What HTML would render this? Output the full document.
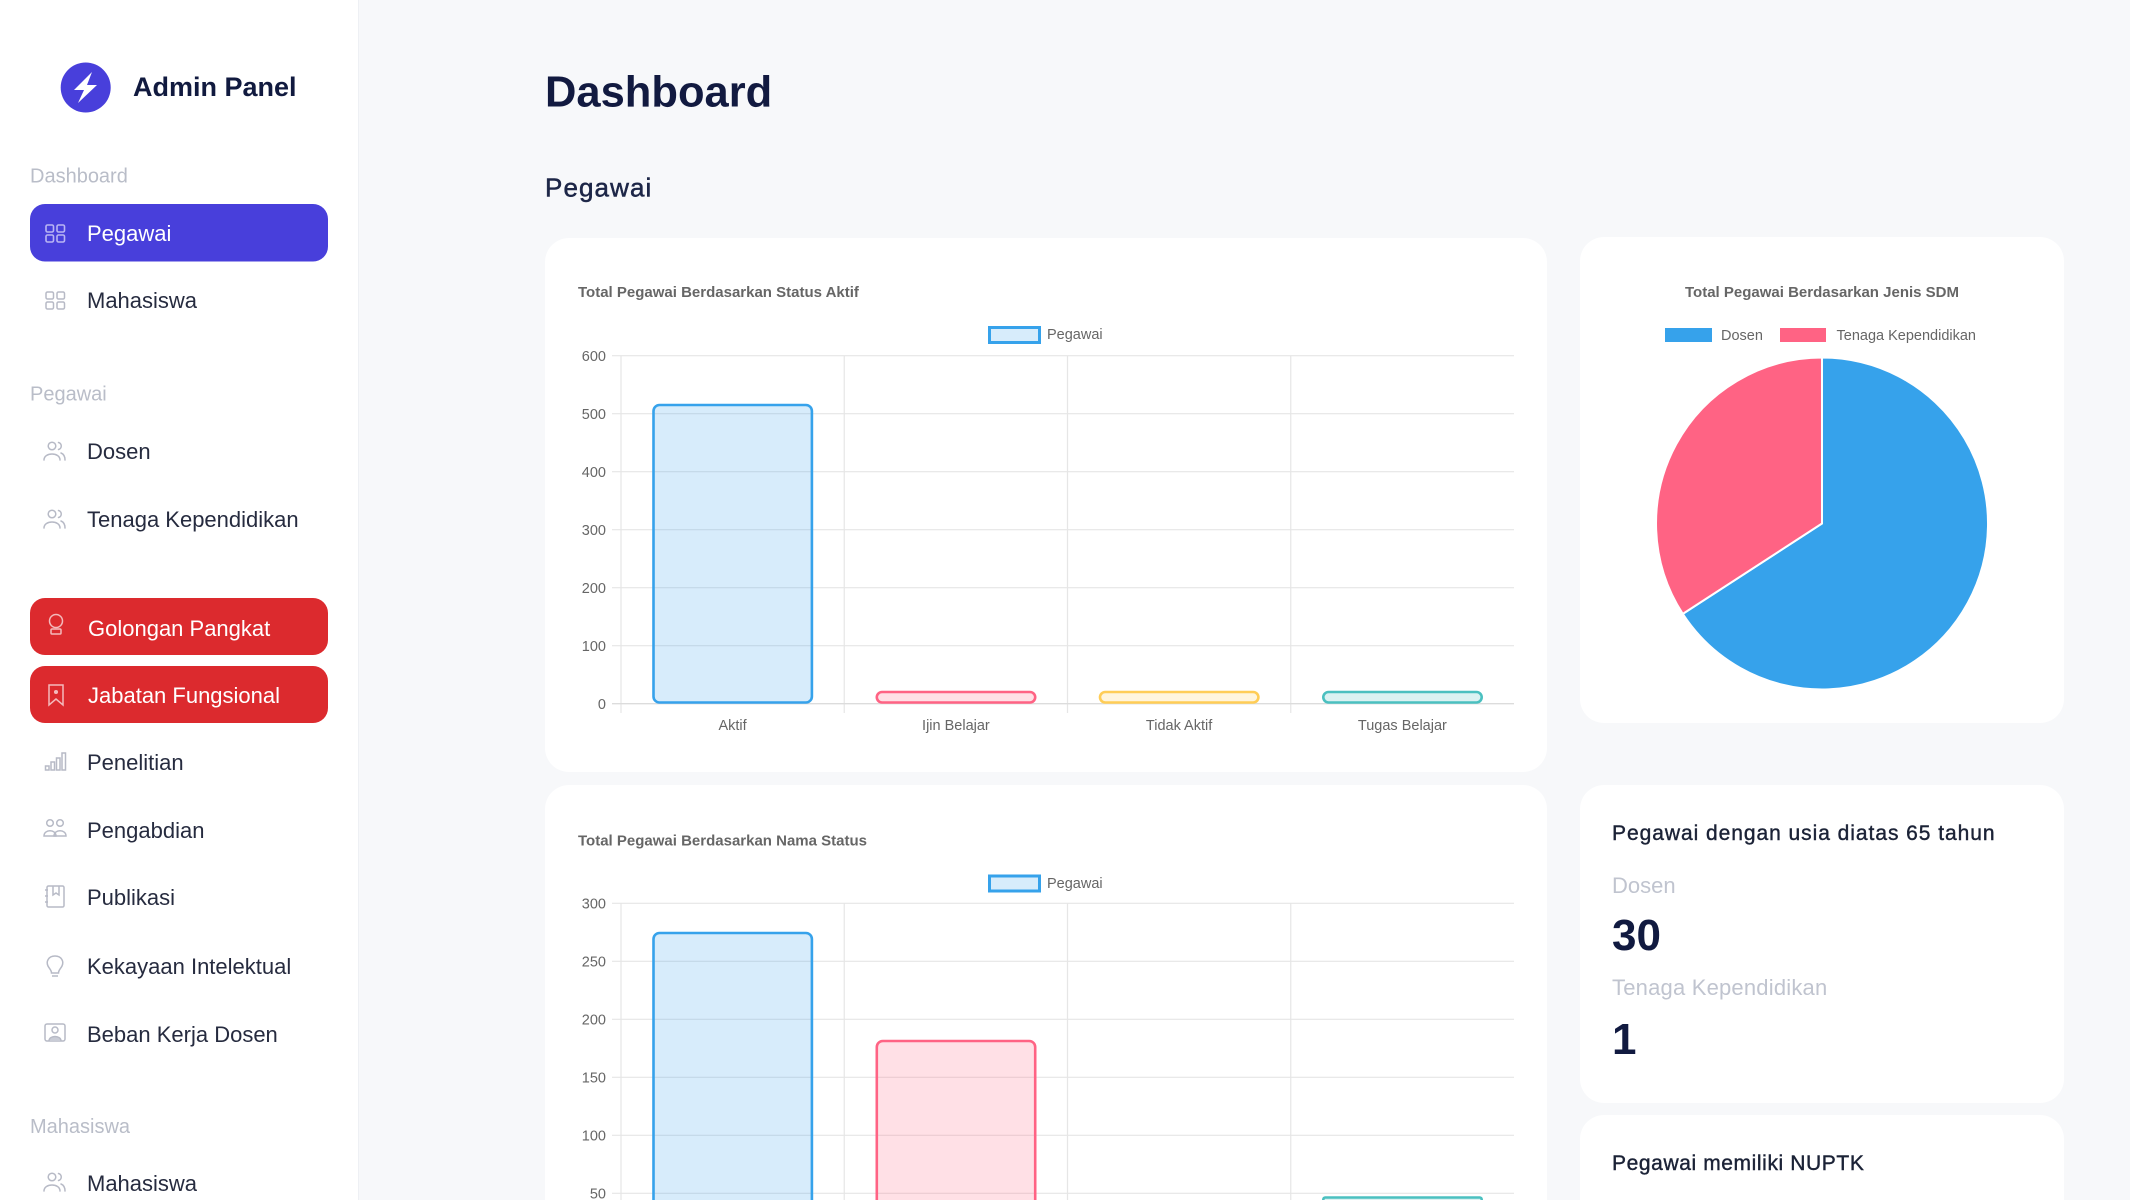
<!DOCTYPE html>
<html><head><meta charset="utf-8"><style>
html,body{margin:0;padding:0;background:#f7f8fa;width:2130px;height:1200px;overflow:hidden;}
svg{display:block;}
text{font-family:"Liberation Sans",Arial,sans-serif;}
</style></head><body>
<svg width="2130" height="1200" viewBox="0 0 2130 1200" xmlns="http://www.w3.org/2000/svg" style="overflow:hidden">
<defs><clipPath id="pg"><rect x="0" y="0" width="2130" height="1200"/></clipPath></defs>
<g clip-path="url(#pg)">
<rect x="0" y="0" width="2130" height="1200" fill="#f7f8fa"/>
<!-- Sidebar -->
<rect x="0" y="0" width="358" height="1200" fill="#ffffff"/>
<line x1="358.5" y1="0" x2="358.5" y2="1200" stroke="#eef0f4" stroke-width="1"/>
<circle cx="85.7" cy="87.5" r="25" fill="#483fdb"/>
<path d="M92 72 L74 90 L84 90 L78 103 L97 85 L87 85 Z" fill="#ffffff"/>
<text x="133" y="96" font-size="27" font-weight="bold" fill="#111a3f">Admin Panel</text>

<text x="30" y="182.5" font-size="20" fill="#b9bdc8">Dashboard</text>
<rect x="30" y="204" width="298" height="57.5" rx="15" fill="#483fdb"/>
<g fill="none" stroke="#b9b5f3" stroke-width="1.6">
<rect x="46" y="225" width="7.5" height="7" rx="1.5"/><rect x="57" y="225" width="7.5" height="7" rx="1.5"/>
<rect x="46" y="235" width="7.5" height="7" rx="1.5"/><rect x="57" y="235" width="7.5" height="7" rx="1.5"/>
</g>
<text x="87" y="241" font-size="22" fill="#ffffff">Pegawai</text>

<g fill="none" stroke="#b7bac6" stroke-width="1.5">
<rect x="46" y="292" width="7.5" height="7" rx="1.5"/><rect x="57" y="292" width="7.5" height="7" rx="1.5"/>
<rect x="46" y="302" width="7.5" height="7" rx="1.5"/><rect x="57" y="302" width="7.5" height="7" rx="1.5"/>
</g>
<text x="87" y="308" font-size="22" fill="#262b3f">Mahasiswa</text>

<text x="30" y="400.5" font-size="20" fill="#b9bdc8">Pegawai</text>

<g fill="none" stroke="#b7bac6" stroke-width="1.5" stroke-linecap="round">
<circle cx="52" cy="446" r="3.8"/><path d="M44 460 C44 452 60 452 60 460"/><path d="M58.5 442.5 A3.6 3.6 0 0 1 58.5 449.5"/><path d="M61 453 C63.5 454 65 456 65 460"/>
</g>
<text x="87" y="459" font-size="22" fill="#262b3f">Dosen</text>
<g fill="none" stroke="#b7bac6" stroke-width="1.5" stroke-linecap="round">
<circle cx="52" cy="514" r="3.8"/><path d="M44 528 C44 520 60 520 60 528"/><path d="M58.5 510.5 A3.6 3.6 0 0 1 58.5 517.5"/><path d="M61 521 C63.5 522 65 524 65 528"/>
</g>
<text x="87" y="527" font-size="22" fill="#262b3f">Tenaga Kependidikan</text>

<rect x="30" y="598" width="298" height="57" rx="15" fill="#dc2a2e"/>
<g fill="none" stroke="#f3b9bb" stroke-width="1.5">
<circle cx="56" cy="621" r="6.5"/><rect x="51" y="629" width="10" height="5" rx="1"/>
</g>
<text x="88" y="636" font-size="22" fill="#ffffff">Golongan Pangkat</text>
<rect x="30" y="666" width="298" height="57" rx="15" fill="#dc2a2e"/>
<g fill="none" stroke="#f3b9bb" stroke-width="1.5">
<path d="M49 685 L63 685 L63 705 L56 699 L49 705 Z"/><circle cx="56" cy="692" r="1.3" fill="#f3b9bb"/>
</g>
<text x="88" y="703" font-size="22" fill="#ffffff">Jabatan Fungsional</text>

<g fill="none" stroke="#b7bac6" stroke-width="1.5">
<rect x="45.5" y="766" width="3.5" height="4"/><rect x="51" y="762" width="3.5" height="8"/><rect x="56.5" y="758" width="3.5" height="12"/><rect x="62" y="753" width="3.5" height="17"/>
</g>
<text x="87" y="770" font-size="22" fill="#262b3f">Penelitian</text>
<g fill="none" stroke="#b7bac6" stroke-width="1.5">
<circle cx="50" cy="823" r="3.3"/><circle cx="60" cy="823" r="3.3"/><path d="M44 836 C44 829 56 829 56 836 Z"/><path d="M54 836 C54 829 66 829 66 836 Z"/>
</g>
<text x="87" y="838" font-size="22" fill="#262b3f">Pengabdian</text>
<g fill="none" stroke="#b7bac6" stroke-width="1.5">
<rect x="47" y="886" width="17" height="21" rx="1.5"/><path d="M53 886 L53 895 L56 893 L59 895 L59 886"/><path d="M45 890 L48 890 M45 896 L48 896 M45 902 L48 902"/>
</g>
<text x="87" y="905" font-size="22" fill="#262b3f">Publikasi</text>
<g fill="none" stroke="#b7bac6" stroke-width="1.5">
<path d="M55 956 C48 956 46 962 48 966 C49.5 969 51.5 970 51.5 973 L58.5 973 C58.5 970 60.5 969 62 966 C64 962 62 956 55 956 Z"/><path d="M52 976 L58 976"/>
</g>
<text x="87" y="974" font-size="22" fill="#262b3f">Kekayaan Intelektual</text>
<g fill="none" stroke="#b7bac6" stroke-width="1.5">
<rect x="45" y="1024" width="20" height="17" rx="2"/><circle cx="55" cy="1030" r="3"/><path d="M49 1041 C49 1035 61 1035 61 1041" fill="#c9ccd6"/>
</g>
<text x="87" y="1042" font-size="22" fill="#262b3f">Beban Kerja Dosen</text>

<text x="30" y="1133" font-size="20" fill="#b9bdc8">Mahasiswa</text>
<g fill="none" stroke="#b7bac6" stroke-width="1.5" stroke-linecap="round">
<circle cx="52" cy="1177" r="3.8"/><path d="M44 1191 C44 1183 60 1183 60 1191"/><path d="M58.5 1173.5 A3.6 3.6 0 0 1 58.5 1180.5"/><path d="M61 1184 C63.5 1185 65 1187 65 1191"/>
</g>
<text x="87" y="1191" font-size="22" fill="#262b3f">Mahasiswa</text>

<!-- Header -->
<text x="545" y="106.5" font-size="43.5" font-weight="bold" fill="#121a40">Dashboard</text>
<text x="545" y="196.5" font-size="26" fill="#1d2647" letter-spacing="1.1" stroke="#1d2647" stroke-width="0.5">Pegawai</text>

<!-- Cards -->
<rect x="545" y="238" width="1002" height="534" rx="24" fill="#ffffff"/>
<rect x="1580" y="237" width="484" height="486" rx="24" fill="#ffffff"/>
<path d="M545 1200 L545 809 A24 24 0 0 1 569 785 L1523 785 A24 24 0 0 1 1547 809 L1547 1200 Z" fill="#ffffff"/>
<rect x="1580" y="785" width="484" height="318" rx="24" fill="#ffffff"/>
<path d="M1580 1200 L1580 1139 A24 24 0 0 1 1604 1115 L2040 1115 A24 24 0 0 1 2064 1139 L2064 1200 Z" fill="#ffffff"/>

<!-- Chart 1 -->
<text x="578" y="297" font-size="15" font-weight="bold" fill="#666666">Total Pegawai Berdasarkan Status Aktif</text>
<rect x="989.5" y="327.5" width="50" height="15" fill="rgba(54,162,235,0.2)" stroke="rgb(54,162,235)" stroke-width="3"/>
<text x="1047" y="339" font-size="14.5" fill="#666666">Pegawai</text>
<g stroke="#e6e6e6" stroke-width="1.2">
<line x1="612" y1="355.7" x2="1514" y2="355.7"/>
<line x1="612" y1="413.7" x2="1514" y2="413.7"/>
<line x1="612" y1="471.7" x2="1514" y2="471.7"/>
<line x1="612" y1="529.7" x2="1514" y2="529.7"/>
<line x1="612" y1="587.7" x2="1514" y2="587.7"/>
<line x1="612" y1="645.7" x2="1514" y2="645.7"/>
<line x1="621" y1="355.7" x2="621" y2="713"/>
<line x1="844.25" y1="355.7" x2="844.25" y2="713"/>
<line x1="1067.5" y1="355.7" x2="1067.5" y2="713"/>
<line x1="1290.75" y1="355.7" x2="1290.75" y2="713"/>
</g>
<line x1="612" y1="703.7" x2="1514" y2="703.7" stroke="#dcdcdc" stroke-width="1.4"/>
<g font-size="14.5" fill="#666666" text-anchor="end">
<text x="606" y="361">600</text><text x="606" y="419">500</text><text x="606" y="477">400</text>
<text x="606" y="535">300</text><text x="606" y="593">200</text><text x="606" y="651">100</text><text x="606" y="709">0</text>
</g>
<g font-size="14.5" fill="#666666" text-anchor="middle">
<text x="732.6" y="730">Aktif</text><text x="955.9" y="730">Ijin Belajar</text>
<text x="1179.1" y="730">Tidak Aktif</text><text x="1402.4" y="730">Tugas Belajar</text>
</g>
<rect x="653.5" y="405" width="158.4" height="297.5" rx="6" fill="rgba(54,162,235,0.2)" stroke="rgb(54,162,235)" stroke-width="2.6"/>
<rect x="876.8" y="692" width="158.4" height="10.5" rx="5.2" fill="rgba(255,99,132,0.2)" stroke="rgb(255,99,132)" stroke-width="2.6"/>
<rect x="1100" y="692" width="158.4" height="10.5" rx="5.2" fill="rgba(255,205,86,0.2)" stroke="rgb(255,205,86)" stroke-width="2.6"/>
<rect x="1323.3" y="692" width="158.4" height="10.5" rx="5.2" fill="rgba(75,192,192,0.2)" stroke="rgb(75,192,192)" stroke-width="2.6"/>

<!-- Chart 2 -->
<text x="578" y="845.5" font-size="15" font-weight="bold" fill="#666666">Total Pegawai Berdasarkan Nama Status</text>
<rect x="989.5" y="876" width="50" height="15" fill="rgba(54,162,235,0.2)" stroke="rgb(54,162,235)" stroke-width="3"/>
<text x="1047" y="888" font-size="14.5" fill="#666666">Pegawai</text>
<g stroke="#e6e6e6" stroke-width="1.2">
<line x1="612" y1="903.3" x2="1514" y2="903.3"/>
<line x1="612" y1="961.3" x2="1514" y2="961.3"/>
<line x1="612" y1="1019.3" x2="1514" y2="1019.3"/>
<line x1="612" y1="1077.3" x2="1514" y2="1077.3"/>
<line x1="612" y1="1135.3" x2="1514" y2="1135.3"/>
<line x1="612" y1="1193.3" x2="1514" y2="1193.3"/>
<line x1="621" y1="903.3" x2="621" y2="1200"/>
<line x1="844.25" y1="903.3" x2="844.25" y2="1200"/>
<line x1="1067.5" y1="903.3" x2="1067.5" y2="1200"/>
<line x1="1290.75" y1="903.3" x2="1290.75" y2="1200"/>
</g>
<g font-size="14.5" fill="#666666" text-anchor="end">
<text x="606" y="908.5">300</text><text x="606" y="966.5">250</text><text x="606" y="1024.5">200</text>
<text x="606" y="1082.5">150</text><text x="606" y="1140.5">100</text><text x="606" y="1198.5">50</text>
</g>
<path d="M653.5 1200 L653.5 939 A6 6 0 0 1 659.5 933 L805.9 933 A6 6 0 0 1 811.9 939 L811.9 1200" fill="rgba(54,162,235,0.2)" stroke="rgb(54,162,235)" stroke-width="2.6"/>
<path d="M876.8 1200 L876.8 1047 A6 6 0 0 1 882.8 1041 L1029.2 1041 A6 6 0 0 1 1035.2 1047 L1035.2 1200" fill="rgba(255,99,132,0.2)" stroke="rgb(255,99,132)" stroke-width="2.6"/>
<path d="M1323.3 1200 L1323.3 1199.5 A2 2 0 0 1 1325.3 1197.5 L1479.7 1197.5 A2 2 0 0 1 1481.7 1199.5 L1481.7 1200" fill="rgba(75,192,192,0.2)" stroke="rgb(75,192,192)" stroke-width="2.6"/>

<!-- Pie -->
<text x="1822" y="297" font-size="15" font-weight="bold" fill="#666666" text-anchor="middle">Total Pegawai Berdasarkan Jenis SDM</text>
<rect x="1665" y="328" width="47" height="14" fill="rgb(54,162,235)"/>
<text x="1721" y="340" font-size="14.5" fill="#666666">Dosen</text>
<rect x="1780" y="328" width="46" height="14" fill="rgb(255,99,132)"/>
<text x="1836.5" y="340" font-size="14.5" fill="#666666">Tenaga Kependidikan</text>
<path d="M1822 523.5 L1822 357.5 A166 166 0 1 1 1682.8 613.9 Z" fill="rgb(54,162,235)" stroke="#ffffff" stroke-width="2"/>
<path d="M1822 523.5 L1682.8 613.9 A166 166 0 0 1 1822 357.5 Z" fill="rgb(255,99,132)" stroke="#ffffff" stroke-width="2"/>

<!-- Stats -->
<text x="1612" y="840" font-size="21" fill="#1b2236" letter-spacing="0.95" stroke="#1b2236" stroke-width="0.4">Pegawai dengan usia diatas 65 tahun</text>
<text x="1612" y="893" font-size="22" fill="#c0c4cf">Dosen</text>
<text x="1612" y="950" font-size="44" font-weight="bold" fill="#111a40">30</text>
<text x="1612" y="995" font-size="22" fill="#c0c4cf" letter-spacing="0.2">Tenaga Kependidikan</text>
<text x="1612" y="1054" font-size="44" font-weight="bold" fill="#111a40">1</text>
<text x="1612" y="1170" font-size="21" fill="#1b2236" letter-spacing="0.6" stroke="#1b2236" stroke-width="0.4">Pegawai memiliki NUPTK</text>
</g>
</svg>
</body></html>
